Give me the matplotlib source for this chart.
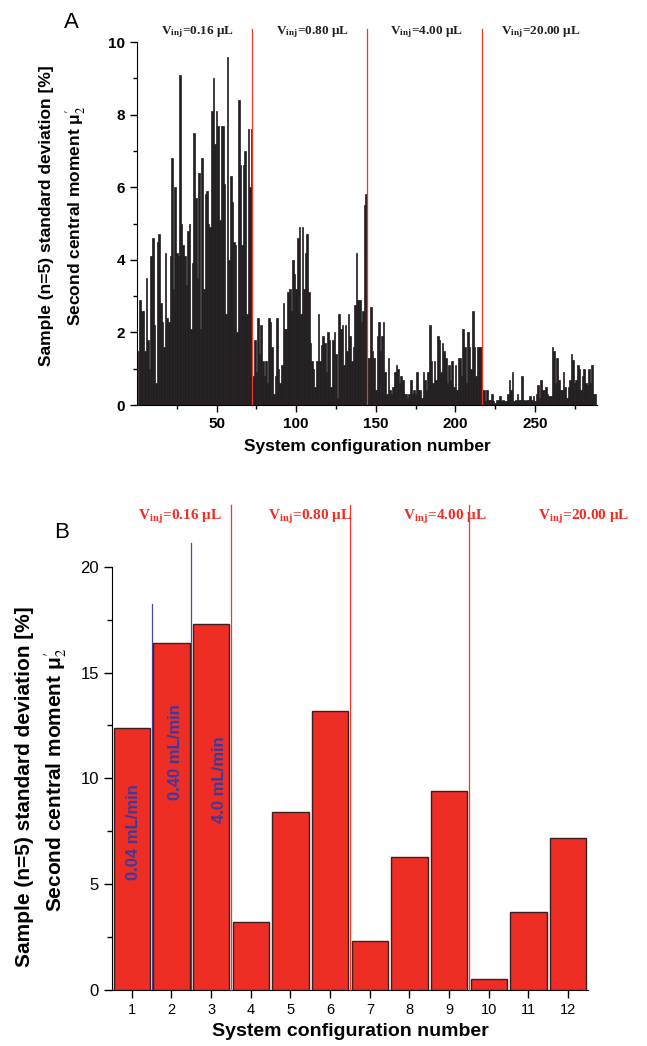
import matplotlib
matplotlib.use('Agg')
import matplotlib.pyplot as plt
import numpy as np

plt.rcParams['font.family'] = ['Liberation Sans', 'DejaVu Sans']
plt.rcParams['mathtext.fontset'] = 'stix'

# panel A: 288 system configurations, 4 injection volumes of 72 each
seg_016 = [1.5, 2.9, 2.6, 2.6, 1.5, 3.5, 1.8, 1.0, 4.1, 4.6,
           2.2, 0.6, 4.5, 4.7, 2.8, 2.3, 1.6, 4.2, 2.4, 2.3,
           4.1, 6.8, 3.2, 6.0, 4.2, 4.1, 9.1, 5.0, 4.4, 4.1,
           3.3, 4.8, 5.0, 2.1, 3.9, 7.5, 5.7, 3.5, 6.4, 2.1,
           6.8, 3.2, 5.8, 5.9, 5.0, 4.9, 8.1, 9.0, 7.2, 8.1,
           7.7, 5.1, 7.7, 7.7, 6.1, 2.5, 9.6, 4.0, 6.3, 5.6,
           4.5, 4.4, 2.0, 8.4, 6.6, 4.4, 6.6, 7.0, 2.5, 7.6,
           6.0, 7.6]
seg_080 = [0.8, 1.8, 0.9, 2.4, 1.4, 2.2, 1.2, 0.8, 1.2, 0.6,
           2.4, 2.3, 1.6, 0.3, 0.8, 2.4, 1.0, 0.6, 1.1, 2.8,
           2.1, 2.1, 3.1, 3.2, 2.6, 4.0, 3.6, 3.2, 4.6, 4.9,
           2.5, 4.9, 3.2, 4.2, 4.7, 3.1, 1.7, 1.2, 1.0, 0.5,
           1.2, 2.5, 1.2, 1.65, 1.9, 1.7, 0.9, 2.0, 1.8, 0.5,
           1.8, 2.0, 1.4, 0.2, 2.5, 2.1, 2.2, 1.1, 2.2, 1.5,
           2.5, 1.9, 1.2, 1.6, 2.75, 4.2, 2.9, 2.9, 2.3, 2.6,
           5.5, 5.8]
seg_400 = [1.3, 1.3, 2.7, 1.5, 1.3, 0.4, 1.9, 2.3, 1.5, 1.9,
           2.3, 0.9, 0.3, 1.3, 0.4, 0.3, 0.5, 0.9, 1.1, 1.0,
           0.6, 0.8, 0.7, 0.3, 0.3, 0.2, 0.3, 0.7, 0.3, 0.4,
           0.3, 0.9, 0.4, 0.4, 0.2, 0.9, 0.7, 0.4, 0.9, 2.2,
           1.2, 0.6, 1.2, 0.7, 1.9, 1.8, 0.9, 1.7, 1.5, 1.3,
           0.6, 1.1, 0.7, 1.2, 0.5, 1.1, 0.4, 1.3, 1.3, 0.8,
           2.1, 1.6, 0.6, 2.0, 1.6, 1.0, 2.6, 1.6, 0.8, 1.6,
           1.6, 1.6]
seg_2000 = [0.4, 0.4, 0.1, 0.4, 0.15, 0.15, 0.3, 0.1, 0.06, 0.15,
            0.15, 0.25, 0.1, 0.15, 0.1, 0.1, 0.3, 0.7, 0.4, 0.9,
            0.1, 0.15, 0.3, 0.15, 0.15, 0.8, 0.15, 0.1, 0.15, 0.15,
            0.25, 0.15, 0.25, 0.1, 0.3, 0.55, 0.2, 0.7, 0.4, 0.4,
            0.5, 0.3, 0.25, 0.25, 1.6, 1.5, 0.6, 1.3, 0.7, 0.4,
            0.4, 0.9, 0.5, 0.2, 0.5, 0.7, 1.4, 1.25, 0.6, 0.7,
            1.1, 1.0, 0.4, 0.8, 1.0, 0.6, 0.55, 1.0, 0.6, 1.1,
            0.3, 0.3]
vinj_labels = ['0.16', '0.80', '4.00', '20.00']

# panel B: 12 configurations
config_b = list(range(1, 13))
moment_b = [12.4, 16.4, 17.3, 3.2, 8.4, 13.2, 2.3, 6.3, 9.4, 0.5, 3.7, 7.2]
flow_labels = ['0.04 mL/min', '0.40 mL/min', '4.0 mL/min']

ylab1 = 'Sample (n=5) standard deviation [%]'
ylab2 = 'Second central moment μ$_2^{\\prime}$'
xlab = 'System configuration number'

fig = plt.figure(figsize=(6.47, 10.46), dpi=100)

# ---------------- panel A ----------------
axA = fig.add_axes([0.2117, 0.6128, 0.711, 0.347])
valsA = seg_016 + seg_080 + seg_400 + seg_2000
idxA = np.arange(1, len(valsA) + 1)
axA.bar(idxA, valsA, width=1.0, color='#231f20', edgecolor='#231f20', linewidth=0.5)
axA.set_xlim(0, 289)
axA.set_ylim(0, 10)
for s in ['top', 'right']:
    axA.spines[s].set_visible(False)
axA.set_xticks([50, 100, 150, 200, 250])
axA.set_xticks(np.arange(25, 289, 25), minor=True)
axA.set_yticks([0, 2, 4, 6, 8, 10])
axA.set_yticks(np.arange(1, 10, 2), minor=True)
axA.tick_params(which='major', direction='out', length=5, width=1, labelsize=11)
axA.tick_params(which='minor', direction='out', length=3, width=1)
for lab in axA.get_xticklabels() + axA.get_yticklabels():
    lab.set_fontweight('bold')
axA.set_xlabel(xlab, fontsize=12.5, fontweight='bold', labelpad=6)

nseg = len(seg_016)
for k in range(1, 4):
    xb = k * nseg + 0.5
    axA.plot([xb, xb], [0, 10.35], color='#f0372c', lw=0.9, clip_on=False)
for k, v in enumerate(vinj_labels):
    xc = k * nseg + nseg / 2 + 2
    axA.text(xc, 10.28, 'V$_{\\mathbf{inj}}$=' + v + ' μL', ha='center', va='center',
             fontsize=9.5, fontweight='bold', family='Liberation Serif', color='#231f20')

fig.text(47 / 647, 1 - 216 / 1046, ylab1, rotation=90, ha='center', va='center',
         fontsize=12.5, fontweight='bold')
fig.text(76 / 647, 1 - 216 / 1046, ylab2, rotation=90, ha='center', va='center',
         fontsize=12.5, fontweight='bold')
fig.text(71 / 647, 1 - 22 / 1046, 'A', ha='center', va='center', fontsize=16)

# ---------------- panel B ----------------
axB = fig.add_axes([0.1731, 0.0535, 0.7357, 0.4047])
axB.bar(config_b, moment_b, width=0.92, color='#ee2d24', edgecolor='#3a2020',
        linewidth=1, zorder=3)
axB.set_xlim(0.5, 12.5)
axB.set_ylim(0, 20)
for s in ['top', 'right']:
    axB.spines[s].set_visible(False)
axB.set_xticks(config_b)
axB.set_yticks([0, 5, 10, 15, 20])
axB.set_yticks(np.arange(2.5, 20, 5), minor=True)
axB.tick_params(axis='x', which='major', direction='out', length=6, width=1, labelsize=10.5)
axB.tick_params(axis='y', which='major', direction='out', length=6, width=1, labelsize=12)
axB.tick_params(which='minor', direction='out', length=3.5, width=1)
axB.set_xlabel(xlab, fontsize=14, fontweight='bold', labelpad=4)

# flow-rate separators inside the first group
axB.plot([1.5, 1.5], [0, 18.25], color='#4a48a8', lw=0.9, clip_on=False, zorder=2)
axB.plot([2.5, 2.5], [0, 21.1], color='#4a48a8', lw=0.9, clip_on=False, zorder=2)
# volume separators
for xb in [3.5, 6.5, 9.5]:
    axB.plot([xb, xb], [0, 22.9], color='#f0372c', lw=0.9, clip_on=False, zorder=4)

vinj_x = [2.2, 5.5, 8.9, 12.4]
for xc, v in zip(vinj_x, vinj_labels):
    axB.text(xc, 22.35, 'V$_{\\mathbf{inj}}$=' + v + ' μL', ha='center', va='center',
             fontsize=11, fontweight='bold', family='Liberation Serif',
             color='#ee2d24', clip_on=False)

flow_x = [1.03, 2.1, 3.2]
flow_y = [5.2, 9.0, 7.9]
for xc, yb, t in zip(flow_x, flow_y, flow_labels):
    axB.text(xc, yb, t, rotation=90, ha='center', va='bottom', fontsize=12,
             fontweight='bold', color='#3c3a9c', zorder=5)

fig.text(25 / 647, 1 - 787 / 1046, ylab1, rotation=90, ha='center', va='center',
         fontsize=15, fontweight='bold')
fig.text(56 / 647, 1 - 780 / 1046, ylab2, rotation=90, ha='center', va='center',
         fontsize=15, fontweight='bold')
fig.text(62 / 647, 1 - 532 / 1046, 'B', ha='center', va='center', fontsize=16)

fig.savefig('out.png', dpi=100)
